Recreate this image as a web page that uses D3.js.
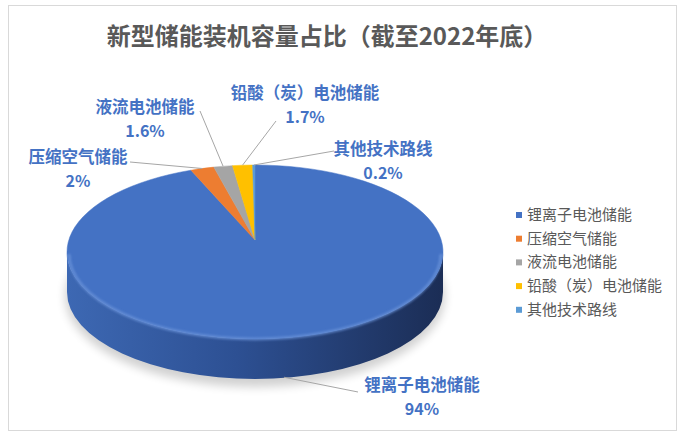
<!DOCTYPE html>
<html>
<head>
<meta charset="utf-8">
<script src="https://cdn.jsdelivr.net/npm/d3@7"></script>
<style>
  body { margin: 0; background: #fff; }
  text { font-family: "Noto Sans CJK SC", "Liberation Sans", sans-serif; }
</style>
</head>
<body>
<svg id="chart" width="684" height="437"></svg>
<script>
// data
const categories = ["锂离子电池储能", "压缩空气储能", "液流电池储能", "铅酸（炭）电池储能", "其他技术路线"];
const shares = [94, 2, 1.6, 1.7, 0.2];
const shareLabels = ["94%", "2%", "1.6%", "1.7%", "0.2%"];
const colors = ["#4472C4", "#ED7D31", "#A5A5A5", "#FFC000", "#5B9BD5"];

// label placement (centre of the text block)
const labelPos = [
    {x: 422, y: 385, lx: 358, ly: 392},
    {x: 78, y: 157, lx: 130, ly: 162},
    {x: 145, y: 107, lx: 200, ly: 111},
    {x: 305, y: 93, lx: 276, ly: 121},
    {x: 383, y: 149, lx: 334, ly: 151}
];

const svg = d3.select("#chart");
const defs = svg.append("defs");

const cx = 255, cy = 252, rx = 188, ry = 87, depth = 40;
const apex = {x: 255, y: 240};

// border
svg.append("rect")
    .attr("x", 8.5).attr("y", 5.5)
    .attr("width", 668).attr("height", 425)
    .attr("fill", "#fff")
    .attr("stroke", "#d9d9d9");

// title
svg.append("text")
    .attr("x", 327).attr("y", 45)
    .attr("text-anchor", "middle")
    .attr("font-size", 24)
    .attr("font-weight", "bold")
    .attr("fill", "#595959")
    .text("新型储能装机容量占比（截至2022年底）");

// shadow under the pie
const blur = defs.append("filter").attr("id", "blur")
    .attr("x", "-20%").attr("y", "-20%").attr("width", "140%").attr("height", "140%");
blur.append("feGaussianBlur").attr("stdDeviation", 5);
defs.append("filter").attr("id", "soft")
    .append("feGaussianBlur").attr("stdDeviation", 1.2);

svg.append("ellipse")
    .attr("cx", cx).attr("cy", cy + depth + 4)
    .attr("rx", rx + 2).attr("ry", ry + 4)
    .attr("fill", "#000").attr("opacity", 0.18)
    .attr("filter", "url(#blur)");

// side of the pie
const sideGrad = defs.append("linearGradient").attr("id", "side")
    .attr("x1", "0%").attr("x2", "100%").attr("y1", "0%").attr("y2", "0%");
sideGrad.append("stop").attr("offset", "0%").attr("stop-color", "#3d68b3");
sideGrad.append("stop").attr("offset", "45%").attr("stop-color", "#2d5093");
sideGrad.append("stop").attr("offset", "100%").attr("stop-color", "#1b2d55");

svg.append("path")
    .attr("d", `M${cx - rx},${cy} A${rx},${ry} 0 0 0 ${cx + rx},${cy}
                L${cx + rx},${cy + depth} A${rx},${ry} 0 0 1 ${cx - rx},${cy + depth} Z`)
    .attr("fill", "url(#side)");

// top face slices
const pie = d3.pie().sort(null).value(d => d)(shares);
const pt = a => ({x: cx + rx * Math.sin(a), y: cy - ry * Math.cos(a)});

svg.append("g").selectAll("path")
    .data(pie)
    .join("path")
    .attr("d", d => {
        const s = pt(d.startAngle), e = pt(d.endAngle);
        const large = d.endAngle - d.startAngle > Math.PI ? 1 : 0;
        return `M${apex.x},${apex.y} L${s.x},${s.y} A${rx},${ry} 0 ${large} 1 ${e.x},${e.y} Z`;
    })
    .attr("fill", (d, i) => colors[i])
    .attr("stroke", (d, i) => colors[i])
    .attr("stroke-width", 0.5);

// bevel highlight on the front rim
svg.append("path")
    .attr("d", `M${cx - rx + 2},${cy + 2} A${rx - 2},${ry - 2} 0 0 0 ${cx + rx - 2},${cy + 2}`)
    .attr("fill", "none")
    .attr("stroke", "#6d95db")
    .attr("stroke-width", 3)
    .attr("opacity", 0.7)
    .attr("filter", "url(#soft)");

// leader lines
svg.append("g").selectAll("polyline")
    .data(pie)
    .join("polyline")
    .attr("points", (d, i) => {
        const m = (d.startAngle + d.endAngle) / 2;
        let p = pt(m);
        if (i === 0) p = {x: cx + (rx - 20) * Math.sin(m), y: cy + depth + ry * 0.98};
        const lp = labelPos[i];
        return `${p.x},${p.y} ${lp.lx},${lp.ly}`;
    })
    .attr("fill", "none")
    .attr("stroke", "#a6a6a6")
    .attr("stroke-width", 1);

// data labels
const lab = svg.append("g").selectAll("g")
    .data(categories)
    .join("g")
    .attr("transform", (d, i) => `translate(${labelPos[i].x},${labelPos[i].y})`)
    .attr("fill", "#4472C4")
    .attr("font-weight", "bold")
    .attr("text-anchor", "middle");
lab.append("text").attr("y", 6).attr("font-size", 16.5).text(d => d);
lab.append("text").attr("y", 30).attr("font-size", 16)
    .attr("font-family", "Liberation Sans, Arial, sans-serif")
    .text((d, i) => shareLabels[i]);

// legend
const leg = svg.append("g").selectAll("g")
    .data(categories)
    .join("g")
    .attr("transform", (d, i) => `translate(516,${215 + i * 23.7})`);
leg.append("rect")
    .attr("x", 0).attr("y", -3).attr("width", 6).attr("height", 6)
    .attr("fill", (d, i) => colors[i]);
leg.append("text")
    .attr("x", 11).attr("y", 5)
    .attr("font-size", 15)
    .attr("fill", "#595959")
    .text(d => d);
</script>
</body>
</html>
